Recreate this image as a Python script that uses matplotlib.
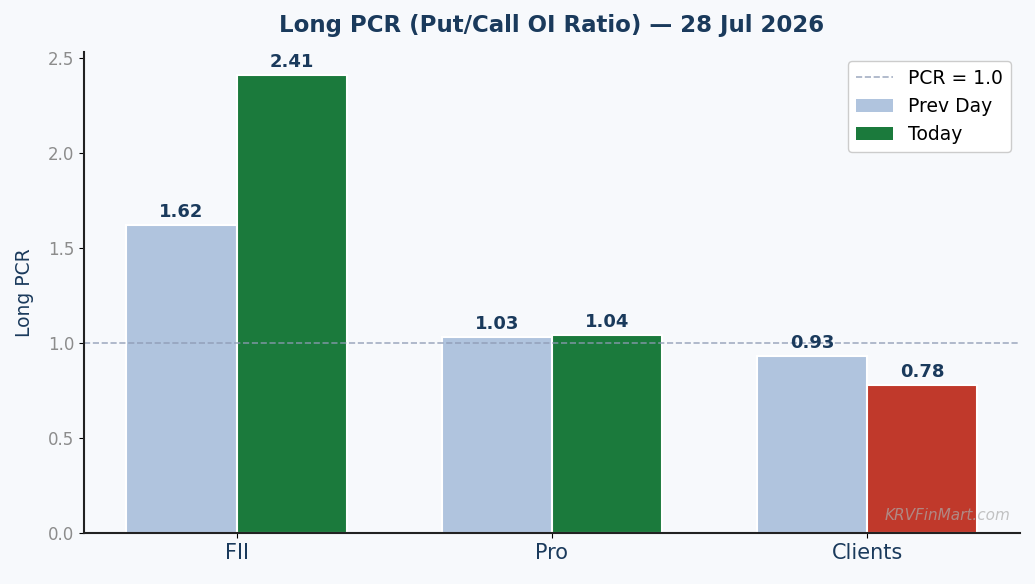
import matplotlib.pyplot as plt
import numpy as np
from matplotlib.patches import Patch
from matplotlib.lines import Line2D

categories = ['FII', 'Pro', 'Clients']
prev_day = [1.62, 1.03, 0.93]
today = [2.41, 1.04, 0.78]

bg = '#f7f9fc'
navy = '#1a3a5c'

fig = plt.figure(figsize=(10.35, 5.84), dpi=100, facecolor=bg)
ax = fig.add_axes([0.081, 0.0873, 0.9045, 0.824])
ax.set_facecolor(bg)

x = np.arange(len(categories))
w = 0.35
today_colors = ['#1b7a3c' if v >= 1.0 else '#c0392b' for v in today]

b1 = ax.bar(x - w / 2, prev_day, w, color='#b0c4de', edgecolor='white', linewidth=1.5)
b2 = ax.bar(x + w / 2, today, w, color=today_colors, edgecolor='white', linewidth=1.5)

for bars, vals in ((b1, prev_day), (b2, today)):
    for b, v in zip(bars, vals):
        ax.text(b.get_x() + b.get_width() / 2, v + 0.02, f'{v:.2f}',
                ha='center', va='bottom', fontsize=13, fontweight='bold', color=navy)

ax.axhline(1.0, color='#8e9bb4', linestyle='--', linewidth=1.2, alpha=0.8)

ax.set_ylim(0, max(today) * 1.05)
ax.set_xticks(x)
ax.set_xticklabels(categories, fontsize=15, color=navy)
ax.tick_params(axis='y', labelsize=12, labelcolor='#8c8c8c')
ax.set_ylabel('Long PCR', fontsize=13.5, color=navy, labelpad=10)
ax.set_title('Long PCR (Put/Call OI Ratio) — 28 Jul 2026', fontsize=16.5,
             fontweight='bold', color=navy, pad=14)

for s in ('top', 'right'):
    ax.spines[s].set_visible(False)
for s in ('left', 'bottom'):
    ax.spines[s].set_color('#222222')
    ax.spines[s].set_linewidth(1.5)

handles = [
    Line2D([0], [0], color='#8e9bb4', linestyle='--', linewidth=1.2, alpha=0.8),
    Patch(facecolor='#b0c4de'),
    Patch(facecolor='#1b7a3c'),
]
leg = ax.legend(handles, ['PCR = 1.0', 'Prev Day', 'Today'], loc='upper right', fontsize=13.5,
                facecolor='white', framealpha=1.0)
leg.get_frame().set_edgecolor('#cccccc')

ax.text(0.99, 0.02, 'KRVFinMart.com', transform=ax.transAxes, ha='right', va='bottom',
        fontsize=11, style='italic', color='#aaaaaa', alpha=0.7)

fig.savefig('out.png', dpi=100, facecolor=bg)
